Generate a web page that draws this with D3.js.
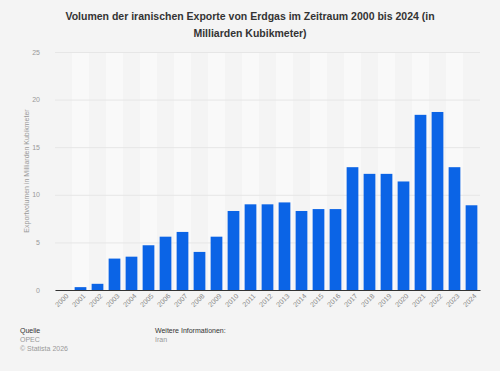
<!DOCTYPE html>
<html>
<head>
<meta charset="utf-8">
<script src="https://cdn.jsdelivr.net/npm/d3@7"></script>
<style>
  body { margin: 0; background: #f4f4f4; }
  svg { display: block; font-family: "Liberation Sans", Arial, sans-serif; }
</style>
</head>
<body>
<div id="chart"></div>
<script>
// chart data
var years = ["2000","2001","2002","2003","2004","2005","2006","2007","2008","2009","2010","2011","2012",
             "2013","2014","2015","2016","2017","2018","2019","2020","2021","2022","2023","2024"];
var exports = [0, 0.3, 0.65, 3.3, 3.5, 4.7, 5.6, 6.1, 4.0, 5.6, 8.3, 9.0, 9.0,
               9.2, 8.3, 8.5, 8.5, 12.9, 12.2, 12.2, 11.4, 18.4, 18.7, 12.9, 8.9];
var yTicks = [0, 5, 10, 15, 20, 25];

var fullWidth = 500, fullHeight = 371;
var margin = {top: 52, right: 20, bottom: 81, left: 55},
    width = fullWidth - margin.left - margin.right,
    height = fullHeight - margin.top - margin.bottom;

var svg = d3.select("#chart").append("svg")
    .attr("width", fullWidth)
    .attr("height", fullHeight);

svg.append("rect")
    .attr("width", fullWidth)
    .attr("height", fullHeight)
    .attr("fill", "#f4f4f4");

// title
var title = svg.append("text")
    .attr("text-anchor", "middle")
    .attr("font-size", "10.5px")
    .attr("font-weight", "bold")
    .attr("fill", "#333");
title.append("tspan").attr("x", 250).attr("y", 20)
    .text("Volumen der iranischen Exporte von Erdgas im Zeitraum 2000 bis 2024 (in");
title.append("tspan").attr("x", 250).attr("y", 37)
    .text("Milliarden Kubikmeter)");

var g = svg.append("g")
    .attr("transform", "translate(" + margin.left + "," + margin.top + ")");

var x = d3.scaleBand()
    .domain(years)
    .range([0, 425])
    .paddingInner(0.31)
    .paddingOuter(0.155);

var y = d3.scaleLinear()
    .domain([0, 25])
    .range([238, 0]);

// alternating column stripes
g.selectAll(".stripe")
    .data(years.filter(function(d, i) { return i % 2 === 1; }))
    .enter().append("rect")
    .attr("class", "stripe")
    .attr("x", function(d) { return x(d) - x.step() * x.paddingInner() / 2; })
    .attr("width", x.step())
    .attr("y", 0)
    .attr("height", 238)
    .attr("fill", "#f9f9f9");

// gridlines
g.selectAll(".grid")
    .data(yTicks)
    .enter().append("line")
    .attr("class", "grid")
    .attr("x1", 0)
    .attr("x2", 425)
    .attr("y1", function(d) { return y(d) + 0.5; })
    .attr("y2", function(d) { return y(d) + 0.5; })
    .attr("stroke", "#e6e6e6")
    .attr("stroke-width", 1);

// y tick labels
g.selectAll(".ylabel")
    .data(yTicks)
    .enter().append("text")
    .attr("class", "ylabel")
    .attr("x", -15)
    .attr("y", function(d) { return y(d) + 2.5; })
    .attr("text-anchor", "end")
    .attr("font-size", "7px")
    .attr("fill", "#999")
    .text(function(d) { return d; });

// y axis title
svg.append("text")
    .attr("transform", "translate(29," + (margin.top + 119) + ") rotate(-90)")
    .attr("text-anchor", "middle")
    .attr("font-size", "7px")
    .attr("fill", "#999")
    .text("Exportvolumen in Milliarden Kubikmeter");

// bars
g.selectAll(".bar")
    .data(exports)
    .enter().append("rect")
    .attr("class", "bar")
    .attr("x", function(d, i) { return x(years[i]); })
    .attr("width", x.bandwidth())
    .attr("y", function(d) { return y(d); })
    .attr("height", function(d) { return 238 - y(d); })
    .attr("fill", "#0b64e6");

// x axis
var xAxis = g.append("g")
    .attr("transform", "translate(0,238)")
    .call(d3.axisBottom(x).tickSize(0).tickPadding(5));
xAxis.select(".domain").attr("stroke", "#333").attr("stroke-width", 1);
xAxis.selectAll("text")
    .attr("font-size", "7px")
    .attr("fill", "#888")
    .attr("text-anchor", "end")
    .attr("dx", "-0.1em")
    .attr("dy", "0.5em")
    .attr("transform", "rotate(-45)");

// footer
var footer = [
  {x: 20, y: 333, text: "Quelle", fill: "#333"},
  {x: 20, y: 342, text: "OPEC", fill: "#999"},
  {x: 20, y: 351, text: "© Statista 2026", fill: "#999"},
  {x: 155, y: 333, text: "Weitere Informationen:", fill: "#333"},
  {x: 155, y: 342, text: "Iran", fill: "#999"}
];
svg.selectAll(".footer")
    .data(footer)
    .enter().append("text")
    .attr("class", "footer")
    .attr("x", function(d) { return d.x; })
    .attr("y", function(d) { return d.y; })
    .attr("font-size", "7px")
    .attr("fill", function(d) { return d.fill; })
    .text(function(d) { return d.text; });
</script>
</body>
</html>
